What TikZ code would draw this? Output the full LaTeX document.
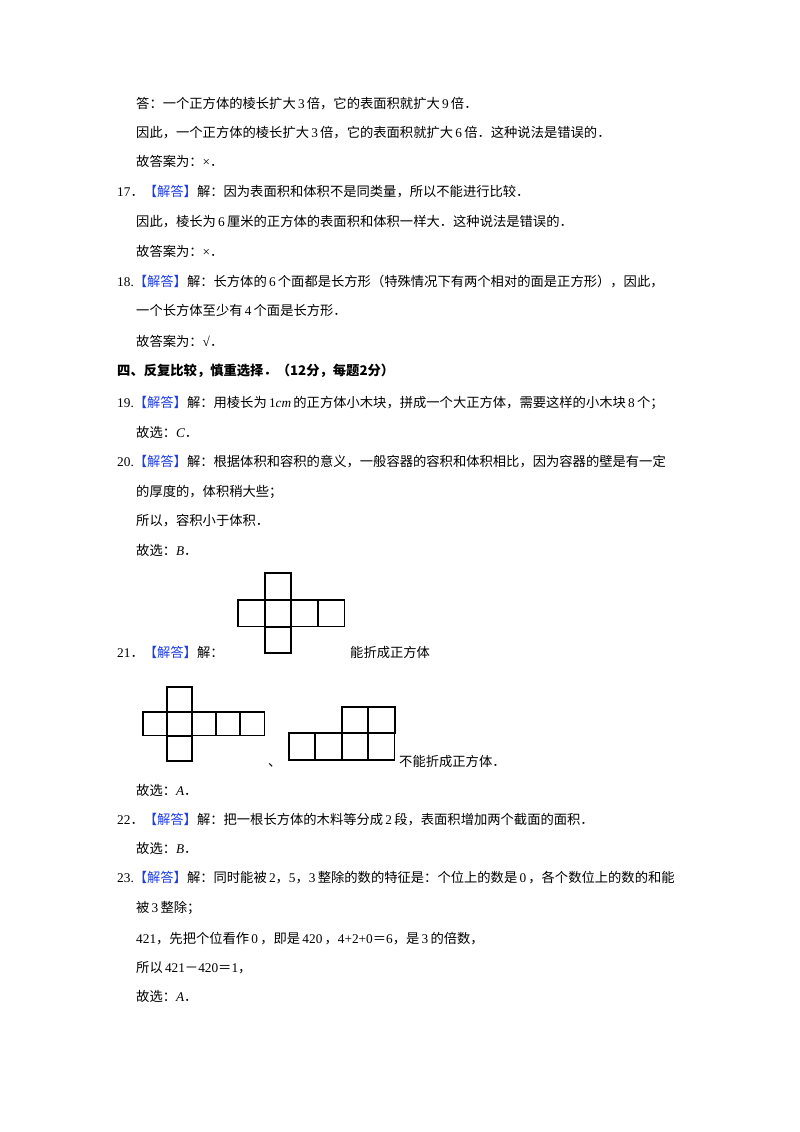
\documentclass[tikz,border=0pt]{standalone}
\usepackage{fontspec}
\setmainfont{Noto Sans CJK SC}
\newfontfamily\lat{Liberation Serif}
\newcommand{\li}[1]{{\lat\itshape #1}}
\newcommand{\n}[1]{\,{\lat #1}\,}
\definecolor{jd}{RGB}{30,60,230}
\newcommand{\jd}{\textcolor{jd}{【解答】}}
\begin{document}
\begin{tikzpicture}[x=1pt,y=-1pt,
  t/.style={anchor=base west,inner sep=0pt,font=\fontsize{13.3}{13}\selectfont},
  sq/.style={draw,line width=1.2pt}]
\useasboundingbox (0,0) rectangle (800,1132);
\node[t] (l1) at (136,108) {答：一个正方体的棱长扩大\n{3}倍，它的表面积就扩大\n{9}倍．};
\node[t] (l2) at (136,137) {因此，一个正方体的棱长扩大\n{3}倍，它的表面积就扩大\n{6}倍．这种说法是错误的．};
\node[t] (l3) at (136,166) {故答案为：{\lat ×}．};
\node[t] (l4) at (117,196) {{\lat 17}．\jd 解：因为表面积和体积不是同类量，所以不能进行比较．};
\node[t] (l5) at (136,226) {因此，棱长为\n{6}厘米的正方体的表面积和体积一样大．这种说法是错误的．};
\node[t] (l6) at (136,256) {故答案为：{\lat ×}．};
\node[t] (l7) at (117,286) {{\lat 18.}\jd 解：长方体的\n{6}个面都是长方形（特殊情况下有两个相对的面是正方形），因此，};
\node[t] (l8) at (136,315) {一个长方体至少有\n{4}个面是长方形．};
\node[t] (l9) at (136,346) {故答案为：{\lat √}．};
\node[t,font=\fontsize{13.3}{13}\selectfont\bfseries] (l10) at (117,375) {四、反复比较，慎重选择．（12分，每题2分）};
\node[t] (l11) at (117,407) {{\lat 19.}\jd 解：用棱长为\n{1\itshape cm}的正方体小木块，拼成一个大正方体，需要这样的小木块\n{8}个；};
\node[t] (l12) at (136,437) {故选：\li{C}．};
\node[t] (l13) at (117,466) {{\lat 20.}\jd 解：根据体积和容积的意义，一般容器的容积和体积相比，因为容器的壁是有一定};
\node[t] (l14) at (136,496) {的厚度的，体积稍大些；};
\node[t] (l15) at (136,525) {所以，容积小于体积．};
\node[t] (l16) at (136,555) {故选：\li{B}．};
\node[t] (l17) at (117,657) {{\lat 21}．\jd 解：};
\node[t] (l18) at (350,657) {能折成正方体};
% net 1
\foreach \x in {238,265,291,318} \draw[sq] (\x,600) rectangle +(26.7,26.7);
\draw[sq] (265,573) rectangle (291,600);
\draw[sq] (265,627) rectangle (291,653);
% net 2
\foreach \x in {143,167,192,216,240} \draw[sq] (\x,712) rectangle +(24.4,23.5);
\draw[sq] (167,687) rectangle (192,712);
\draw[sq] (167,736) rectangle (192,761);
\node[t] (dun) at (268,766) {、};
% net 3
\foreach \x in {289,315,342,368} \draw[sq] (\x,733) rectangle +(26.6,27);
\draw[sq] (342,707) rectangle (368,733);
\draw[sq] (368,707) rectangle (395,733);
\node[t] (l19) at (399,766) {不能折成正方体．};
\node[t] (l20) at (136,795) {故选：\li{A}．};
\node[t] (l21) at (117,824) {{\lat 22}．\jd 解：把一根长方体的木料等分成\n{2}段，表面积增加两个截面的面积．};
\node[t] (l22) at (136,853) {故选：\li{B}．};
\node[t] (l23) at (117,882) {{\lat 23.}\jd 解：同时能被\,{\lat 2}，{\lat 5}，{\lat 3}\,整除的数的特征是：个位上的数是\n{0}，各个数位上的数的和能};
\node[t] (l24) at (136,912) {被\n{3}整除；};
\node[t] (l25) at (136,943) {{\lat 421}，先把个位看作\n{0}，即是\n{420}，{\lat 4+2+0}＝{\lat 6}，是\n{3}的倍数，};
\node[t] (l26) at (136,972) {所以\,{\lat 421}－{\lat 420}＝{\lat 1}，};
\node[t] (l27) at (136,1001) {故选：\li{A}．};
\end{tikzpicture}
\end{document}
